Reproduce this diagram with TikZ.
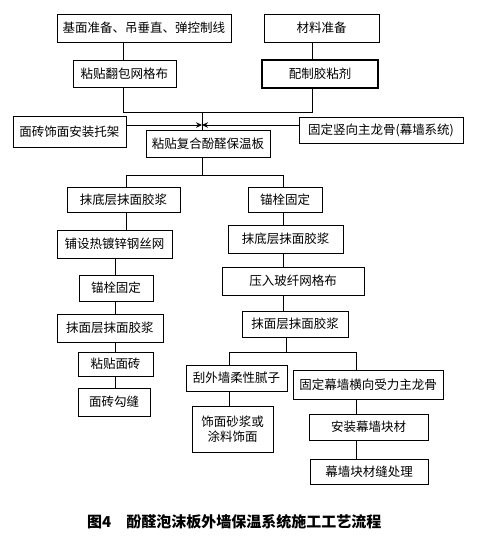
\documentclass[tikz,border=0pt]{standalone}
\usepackage{fontspec}
\setmainfont{Liberation Serif}
\newfontfamily\cjk{Noto Sans CJK SC}
\usetikzlibrary{arrows.meta}
\tikzset{
  bx/.style={draw=black, line width=1pt, inner sep=0pt, font=\cjk\fontsize{12.5}{15}\selectfont, align=center},
  ln/.style={draw=black, line width=1pt},
  tip/.style={-{Stealth[length=6pt,width=5.5pt]}}
}
\begin{document}
\begin{tikzpicture}[x=1pt,y=-1pt]
\useasboundingbox (0,0) rectangle (481,542);
% boxes
\node[bx,minimum width=174pt,minimum height=28pt] (b1) at (144,28) {基面准备、吊垂直、弹控制线};
\node[bx,minimum width=115pt,minimum height=28pt] (b2) at (321.5,28) {材料准备};
\node[bx,minimum width=103pt,minimum height=27pt] (b3) at (124.5,73.5) {粘贴翻包网格布};
\node[bx,line width=1.4pt,minimum width=116pt,minimum height=28pt] (b4) at (320,74) {配制胶粘剂};
\node[bx,minimum width=113pt,minimum height=31pt] (b5) at (69.5,131.5) {面砖饰面安装托架};
\node[bx,minimum width=164pt,minimum height=26pt] (b6) at (381,130) {固定竖向主龙骨(幕墙系统)};
\node[bx,minimum width=124pt,minimum height=27pt] (b7) at (208,143.5) {粘贴复合酚醛保温板};
\node[bx,minimum width=113pt,minimum height=25pt] (b8) at (123.5,199.5) {抹底层抹面胶浆};
\node[bx,minimum width=74pt,minimum height=25pt] (b9) at (285,199.5) {锚栓固定};
\node[bx,minimum width=115pt,minimum height=28pt] (b10) at (114.5,244) {铺设热镀锌钢丝网};
\node[bx,minimum width=74pt,minimum height=26pt] (b11) at (116,288) {锚栓固定};
\node[bx,minimum width=106pt,minimum height=28pt] (b12) at (110,328) {抹面层抹面胶浆};
\node[bx,minimum width=75pt,minimum height=24pt] (b13) at (115.5,364) {粘贴面砖};
\node[bx,minimum width=72pt,minimum height=28pt] (b14) at (114,402) {面砖勾缝};
\node[bx,minimum width=115pt,minimum height=28pt] (b15) at (285.5,239) {抹底层抹面胶浆};
\node[bx,minimum width=142pt,minimum height=28pt] (b16) at (293,281) {压入玻纤网格布};
\node[bx,minimum width=106pt,minimum height=26pt] (b17) at (295,324) {抹面层抹面胶浆};
\node[bx,minimum width=101pt,minimum height=26pt] (b18) at (236.5,378) {刮外墙柔性腻子};
\node[bx,minimum width=81pt,minimum height=46pt] (b19) at (232.5,429) {饰面砂浆或\\涂料饰面};
\node[bx,minimum width=150pt,minimum height=29pt] (b20) at (368,384.5) {固定幕墙横向受力主龙骨};
\node[bx,minimum width=119pt,minimum height=26pt] (b21) at (368.5,427) {安装幕墙块材};
\node[bx,minimum width=118pt,minimum height=25pt] (b22) at (369,471.5) {幕墙块材缝处理};
% caption
\node[anchor=west,inner sep=0pt,font=\cjk\bfseries\fontsize{15}{18}\selectfont] (cap) at (87,522) {图4\quad 酚醛泡沫板外墙保温系统施工工艺流程};
% column coordinates
\coordinate (xa) at (123,0);
\coordinate (xb) at (312,0);
\coordinate (xc) at (202,0);
\coordinate (ya) at (0,112);
\coordinate (yh) at (0,125);
\coordinate (yb) at (0,175);
\coordinate (xl) at (126,0);
\coordinate (xl2) at (115,0);
\coordinate (xr) at (283,0);
\coordinate (xr2) at (286,0);
\coordinate (yc) at (0,352);
\coordinate (xs) at (229,0);
\coordinate (xt) at (356,0);
\coordinate (m1) at (xa |- ya);
\coordinate (m2) at (xb |- ya);
\coordinate (mc) at (xc |- ya);
\coordinate (jc) at (xc |- yh);
\coordinate (s1) at (xl |- yb);
\coordinate (s2) at (xr |- yb);
\coordinate (sc) at (xc |- yb);
\coordinate (t1) at (xs |- yc);
\coordinate (t2) at (xt |- yc);
\coordinate (tc) at (xr2 |- yc);
% connectors top
\draw[ln] (b1.south -| xa) -- (b3.north -| xa);
\draw[ln] (b2.south -| xb) -- (b4.north -| xb);
\draw[ln] (b3.south -| xa) -- (m1) -- (m2) -- (b4.south -| xb);
\draw[ln] (mc) -- (b7.north -| xc);
\draw[ln,tip] (b5.east |- yh) -- (jc);
\draw[ln,tip] (b6.west |- yh) -- (jc);
% split
\draw[ln] (b7.south -| xc) -- (sc);
\draw[ln] (b8.north -| xl) -- (s1) -- (s2) -- (b9.north -| xr);
% left column
\draw[ln] (b8.south -| xl) -- (b10.north -| xl);
\draw[ln] (b10.south -| xl2) -- (b11.north -| xl2);
\draw[ln] (b11.south -| xl2) -- (b12.north -| xl2);
\draw[ln] (b12.south -| xl2) -- (b13.north -| xl2);
\draw[ln] (b13.south -| xl2) -- (b14.north -| xl2);
% right column
\draw[ln] (b9.south -| xr) -- (b15.north -| xr);
\draw[ln] (b15.south -| xr) -- (b16.north -| xr);
\draw[ln] (b16.south -| xr) -- (b17.north -| xr);
\draw[ln] (b17.south -| xr2) -- (tc);
\draw[ln] (b18.north -| xs) -- (t1) -- (t2) -- (b20.north -| xt);
\draw[ln] (b18.south -| xs) -- (b19.north -| xs);
\draw[ln] (b20.south -| xt) -- (b21.north -| xt);
\draw[ln] (b21.south -| xt) -- (b22.north -| xt);
\end{tikzpicture}
\end{document}
